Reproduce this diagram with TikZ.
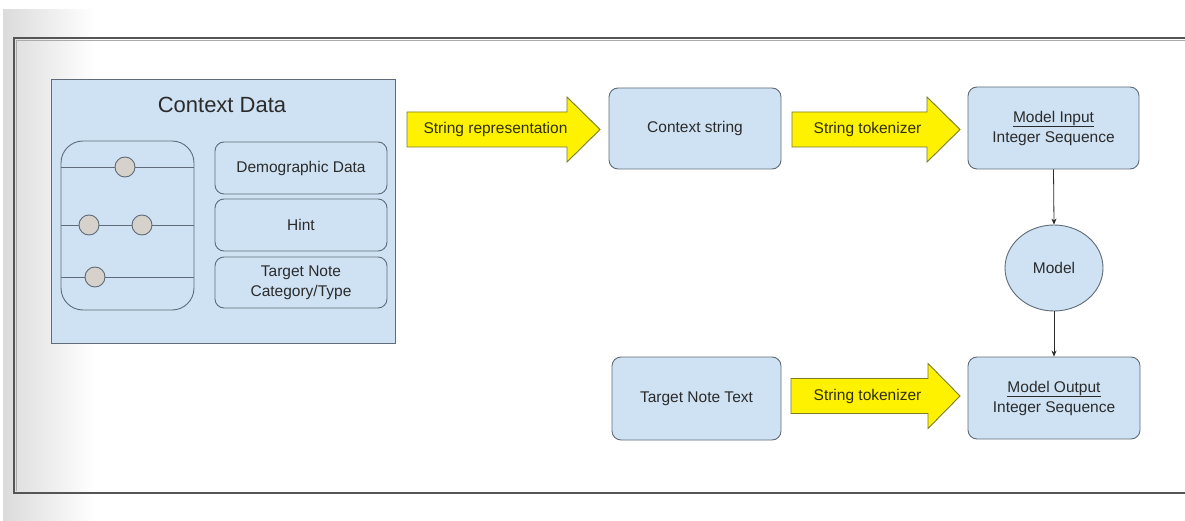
\documentclass[tikz,border=0pt]{standalone}
\usepackage{fontspec}
\setmainfont{Liberation Sans}
\usetikzlibrary{shapes.geometric,arrows.meta}
\definecolor{boxfill}{HTML}{CFE2F3}
\definecolor{boxline}{HTML}{5F6B78}
\definecolor{txt}{HTML}{2B2B2B}
\definecolor{arrline}{HTML}{7A7A28}
\definecolor{arrtxt}{HTML}{2E2E10}
\definecolor{dotfill}{HTML}{D6D1CB}
\definecolor{frameline}{HTML}{555555}
\newcommand{\yellowarrow}[5]{%
  \draw[yarrow] (#1,#4-17.5) -- (#2,#4-17.5) -- (#2,#4-32.5) -- (#3,#4)
     -- (#2,#4+32.5) -- (#2,#4+17.5) -- (#1,#4+17.5) -- cycle;}
\tikzset{
  blue box/.style={draw=boxline, fill=boxfill, line width=0.9pt, text=txt,
    rounded corners=9pt, inner sep=0pt, align=center,
    font=\fontsize{15.5}{20}\selectfont},
  yarrow/.style={draw=arrline, fill=yellow, line width=0.9pt, line join=miter},
  arrlabel/.style={text=arrtxt, inner sep=0pt, font=\fontsize{15.5}{20}\selectfont},
  dot/.style={circle, draw=boxline, fill=dotfill, line width=0.9pt,
    minimum size=20pt, inner sep=0pt},
  tline/.style={draw=boxline, line width=0.9pt},
  flow/.style={draw=txt, line width=0.8pt, -{Stealth[length=6pt,width=5pt]}}
}
\begin{document}
\begin{tikzpicture}[x=1pt,y=-1pt]
\useasboundingbox (0,0) rectangle (1185,521);
% background
\shade[left color=black!14, right color=white] (3,10) rectangle (95,521);
% frame
\draw[frameline!50, line width=1pt] (1185,40.5) -- (16.5,40.5) -- (16.5,491);
\draw[frameline, line width=2pt] (1185,38) -- (14,38) -- (14,493) -- (1185,493);

% context data
\node[blue box, rounded corners=0pt, minimum width=344pt, minimum height=264pt] (ctx) at (223,211) {};
\node[text=txt, font=\fontsize{22}{26}\selectfont, inner sep=0pt] (ctxtitle) at (222,105) {Context Data};
\node[blue box, rounded corners=22pt, minimum width=133pt, minimum height=169pt] (tl) at (127.5,225.5) {};
\draw[tline] (61,167) -- (194,167);
\draw[tline] (61,225) -- (194,225);
\draw[tline] (61,277) -- (194,277);
\node[dot] (d1) at (125,167) {};
\node[dot] (d2) at (89,225) {};
\node[dot] (d3) at (142,225) {};
\node[dot] (d4) at (95,277) {};
\node[blue box, minimum width=172pt, minimum height=52pt] (demo) at (301,168) {Demographic Data};
\node[blue box, minimum width=172pt, minimum height=52pt] (hint) at (301,225) {Hint};
\node[blue box, minimum width=172pt, minimum height=51pt] (tnc) at (301,282.5) {Target Note\\Category/Type};

% top row
\node[blue box, minimum width=172pt, minimum height=81pt] (cstr) at (695,128.5) {Context string};
\node[blue box, minimum width=171pt, minimum height=82pt] (minput) at (1053.5,128) {\underline{Model Input}\\Integer Sequence};
\node[ellipse, draw=boxline, fill=boxfill, line width=0.9pt, text=txt, inner sep=0pt,
  minimum width=98pt, minimum height=86pt, font=\fontsize{15.5}{20}\selectfont] (model) at (1054,268) {Model};
\node[blue box, minimum width=172pt, minimum height=82pt] (moutput) at (1054,398) {\underline{Model Output}\\Integer Sequence};
\node[blue box, minimum width=169pt, minimum height=83pt] (tnt) at (696.5,398.5) {Target Note Text};

% yellow arrows
\yellowarrow{407}{567}{600}{129.5}{}
\node[arrlabel] (l1) at (495.5,129.5) {String representation};
\yellowarrow{792}{927}{960}{129.5}{}
\node[arrlabel] (l2) at (867.5,129.5) {String tokenizer};
\yellowarrow{791}{928}{960}{396}{}
\node[arrlabel] (l3) at (867.5,396) {String tokenizer};

% connectors
\draw[flow] (minput.south) -- (model.north);
\draw[flow] (model.south) -- (moutput.north);
\end{tikzpicture}
\end{document}
